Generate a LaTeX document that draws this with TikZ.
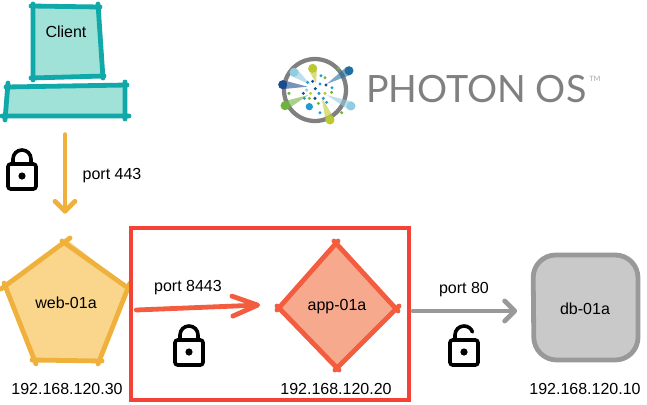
\documentclass[tikz,border=0pt]{standalone}
\usepackage{xcolor}
\usepackage{fontspec}
\usepackage{tikz}
\usetikzlibrary{arrows.meta,calc}
\setmainfont{Liberation Sans}
\newfontfamily\logofont{Lato}
\definecolor{tealline}{HTML}{10A8A8}
\definecolor{tealfill}{HTML}{A0E2D8}
\definecolor{webline}{HTML}{F0B03C}
\definecolor{webfill}{HTML}{F9D68C}
\definecolor{appline}{HTML}{F35C3E}
\definecolor{appfill}{HTML}{F6A98C}
\definecolor{dbline}{HTML}{999999}
\definecolor{dbfill}{HTML}{C9C9C9}
\definecolor{zoneline}{HTML}{F44336}
\definecolor{logogrey}{HTML}{808080}
\definecolor{logonavy}{HTML}{1B4B8F}
\definecolor{logoblue}{HTML}{1F9AD6}
\definecolor{logodeep}{HTML}{1F6F9F}
\definecolor{logosky}{HTML}{90CCE2}
\definecolor{logogreen}{HTML}{70B23E}
\definecolor{logolime}{HTML}{BCC832}
\tikzset{
  sketchline/.style={line cap=round,line join=round,line width=3.6pt},
  portarrow/.style={line cap=round,line join=round,line width=3.6pt,-{Straight Barb[length=#1,width=15pt,round]}},
  portarrow/.default=7.5pt,
  boxlabel/.style={inner sep=0pt,font=\fontsize{12}{14}\selectfont},
  lockshut/.pic={
    \draw[line width=2.7pt,rounded corners=2pt] (-14,-13) rectangle (14,12);
    \draw[line width=2.7pt] (-9,12) -- (-9,17) arc[start angle=180,end angle=0,radius=9] -- (9,12);
    \fill (0,0) circle (3.6);
  },
  lockopen/.pic={
    \draw[line width=2.7pt,rounded corners=2pt] (-14,-13) rectangle (14,12);
    \draw[line width=2.7pt,line cap=round] (-9,12) -- (-9,17) arc[start angle=180,end angle=20,radius=9];
    \fill (0,0) circle (3.6);
  }
}
\begin{document}
\begin{tikzpicture}[x=0.75pt,y=0.75pt,yscale=-1,xscale=1]
    \useasboundingbox (0,0) rectangle (647,404);

    \fill[tealfill] (33,7) -- (98,7) -- (103,76) -- (33,77) -- cycle;
    \draw[sketchline,tealline] (31,6) -- (100,7) (98,4) -- (103,78) (104,76) -- (31,78) (33,4) -- (33,80);
    \fill[tealfill] (7,87) -- (125,85) -- (125,116) -- (5,116) -- cycle;
    \draw[sketchline,tealline] (6,87) -- (127,85) (125,82) -- (125,119) (129,116) -- (2,116) (8,83) -- (5,120);

    \fill[webfill] (66,239) -- (128,287) -- (98,361) -- (34,360) -- (4,287) -- cycle;
    \draw[sketchline,webline] (62,241) -- (128,288) (130,283) -- (98,364) (102,361) -- (32,360) (36,364) -- (4,283) (1,289) -- (70,238);

    \fill[appfill] (336,243) -- (396,309) -- (337,368) -- (279,308) -- cycle;
    \draw[sketchline,appline] (334,241) -- (398,311) (399,306) -- (335,370) (339,370) -- (277,306) (277,310) -- (338,241);

    \draw[sketchline,dbline,fill=dbfill,rounded corners=17pt] (533,255) -- (638,255) -- (638,360) -- (534,360) -- cycle;

    \draw[zoneline,line width=3pt] (131,228) rectangle (409,400);

    \node[boxlabel] (clientlabel) at (66,32) {Client};
    \node[boxlabel,minimum width=90pt,minimum height=23pt] (clientbase) at (65,101) {};
    \node[boxlabel,minimum width=93pt,minimum height=93pt] (web) at (66,303) {web-01a};
    \node[boxlabel,minimum width=88pt,minimum height=93pt] (app) at (337,307) {app-01a};
    \node[boxlabel,minimum width=82pt,minimum height=82pt] (db) at (585,309) {db-01a};

    \draw[portarrow,webline] ($(clientbase.south)+(0,18)$) -- ($(web.north)+(-1,-27)$);
    \draw[portarrow=19pt,appline] ($(web.east)+(8,7)$) -- ($(app.west)+(-18,-2)$);
    \draw[portarrow,dbline] ($(app.east)+(17,4)$) -- ($(db.west)+(-13,2)$);

    \node[boxlabel] (port443) at (112,176) {port 443};
    \node[boxlabel] (port8443) at (188,288) {port 8443};
    \node[boxlabel] (port80) at (464,290) {port 80};
    \node[boxlabel] (webip) at (67,389) {192.168.120.30};
    \node[boxlabel] (appip) at (336,389) {192.168.120.20};
    \node[boxlabel] (dbip) at (585,389) {192.168.120.10};

    \pic at (22,176) {lockshut};
    \pic at (189,352) {lockshut};
    \pic at (464,352) {lockopen};

    \begin{scope}[shift={(270,40)},x=0.25pt,y=0.25pt]
        \draw[logogrey,line width=3.2pt] (135,150) circle (93);
        \foreach \ex/\ey/\tx/\ty/\col in {237/92/170/132/logodeep,243/198/170/165/logosky,180/240/155/172/logolime,45/197/115/165/logogreen,38/134/112/140/logonavy,72/97/122/135/logosky,128/85/138/130/logolime}{
            \fill[\col,opacity=.6] ($(\ex,\ey)!3.4pt!90:(\tx,\ty)$) -- (\tx,\ty) -- ($(\ex,\ey)!3.4pt!-90:(\tx,\ty)$) -- cycle;
            \fill[\col] (\ex,\ey) circle (13.5);
        }
        \foreach \dx/\dy/\col in {153/107/logoblue,165/113/logogreen,128/124/logonavy,113/127/logoblue,150/132/logoblue,168/135/logonavy,136/146/logonavy,186/143/logoblue,100/160/logonavy,122/160/logolime,147/160/logoblue,165/160/logolime,185/157/logogreen,110/150/logosky,103/175/logoblue,118/175/logogreen,135/175/logonavy,160/175/logoblue,170/187/logoblue,145/190/logogreen,150/218/logoblue,215/218/logogreen,205/85/logogreen,57/160/logogreen}{
            \fill[\col] (\dx,\dy) circle (5);
        }
        \fill[logoblue] (118,200) circle (11);
    \end{scope}
    \node[inner sep=0pt,anchor=west,logogrey,font=\logofont\fontsize{28.2}{30}\selectfont] (logotext) at (366,89) {PHOTON OS};
    \node[inner sep=0pt,anchor=west,logogrey!70,font=\logofont\fontsize{5.5}{6}\selectfont] (logotm) at (589,79) {TM};
\end{tikzpicture}
\end{document}
